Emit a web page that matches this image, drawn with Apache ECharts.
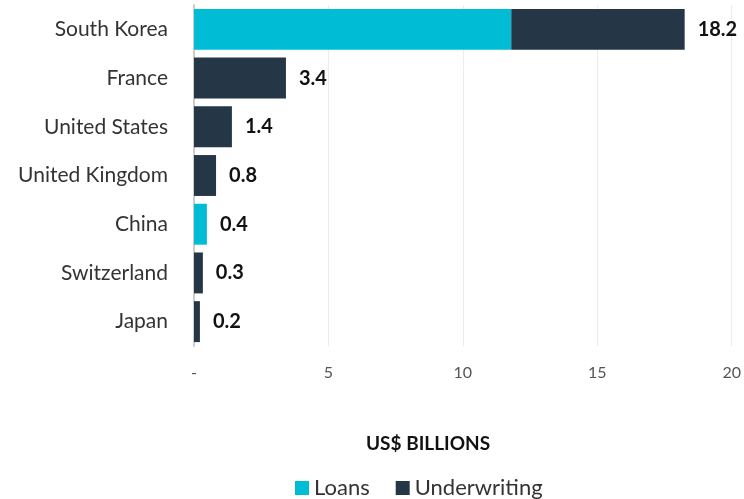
<!DOCTYPE html>
<html>
<head>
<meta charset="utf-8">
<script src="https://cdn.jsdelivr.net/npm/echarts@6/dist/echarts.min.js"></script>
<style>
  html, body { margin: 0; padding: 0; background: #fff; }
  #main { width: 744px; height: 499px; }
</style>
</head>
<body>
<div id="main"></div>
<script>
var countries = ['South Korea', 'France', 'United States', 'United Kingdom', 'China', 'Switzerland', 'Japan'];
var loans = [11.8, 0, 0, 0, 0.48, 0, 0];
var underwriting = [6.45, 3.42, 1.41, 0.82, 0, 0.33, 0.22];
var totals = [18.2, 3.4, 1.4, 0.8, 0.4, 0.3, 0.2];
var xTicks = [0, 5, 10, 15, 20];

var app = echarts.init(document.getElementById('main'));
var font = 'Lato, "Open Sans", sans-serif';

option = {
    textStyle: { fontFamily: font },
    title: {
        text: 'US$ BILLIONS',
        left: 361,
        top: 429,
        textStyle: { fontSize: 19, fontWeight: 'bold', color: '#111', fontFamily: font }
    },
    legend: {
        data: ['Loans', 'Underwriting'],
        left: 290,
        top: 472,
        icon: 'rect',
        itemWidth: 14,
        itemHeight: 14,
        itemGap: 26,
        textStyle: { fontSize: 22, color: '#333', fontFamily: font }
    },
    grid: { left: 194, right: 12, top: 5, bottom: 153, containLabel: false },
    xAxis: {
        type: 'value',
        min: xTicks[0],
        max: xTicks[xTicks.length - 1],
        interval: 5,
        axisLine: { show: false },
        axisTick: { show: false },
        splitLine: { lineStyle: { color: '#ececec' } },
        axisLabel: {
            margin: 19,
            fontSize: 16,
            color: '#555',
            formatter: function (v) { return v === 0 ? '-' : v; }
        }
    },
    yAxis: {
        type: 'category',
        data: countries,
        inverse: true,
        axisLine: { show: true, lineStyle: { color: '#ccc', width: 2 } },
        axisTick: { show: false },
        axisLabel: { fontSize: 21, color: '#333', margin: 26 }
    },
    series: [
        {
            name: 'Total',
            type: 'bar',
            data: totals.map(function (t, i) { return loans[i] + underwriting[i]; }),
            barGap: '-100%',
            barCategoryGap: '16%',
            itemStyle: { color: 'rgba(0,0,0,0)' },
            z: 1,
            silent: true,
            label: {
                show: true,
                position: 'right',
                distance: 13,
                fontSize: 20,
                fontWeight: 'bold',
                color: '#111',
                formatter: function (p) { return totals[p.dataIndex].toFixed(1); }
            }
        },
        {
            name: 'Loans',
            type: 'bar',
            stack: 'a',
            data: loans,
            itemStyle: { color: '#00BCD4' },
            z: 2
        },
        {
            name: 'Underwriting',
            type: 'bar',
            stack: 'a',
            data: underwriting,
            itemStyle: { color: '#253746' },
            z: 2
        }
    ]
};

app.setOption(option);
</script>
</body>
</html>
